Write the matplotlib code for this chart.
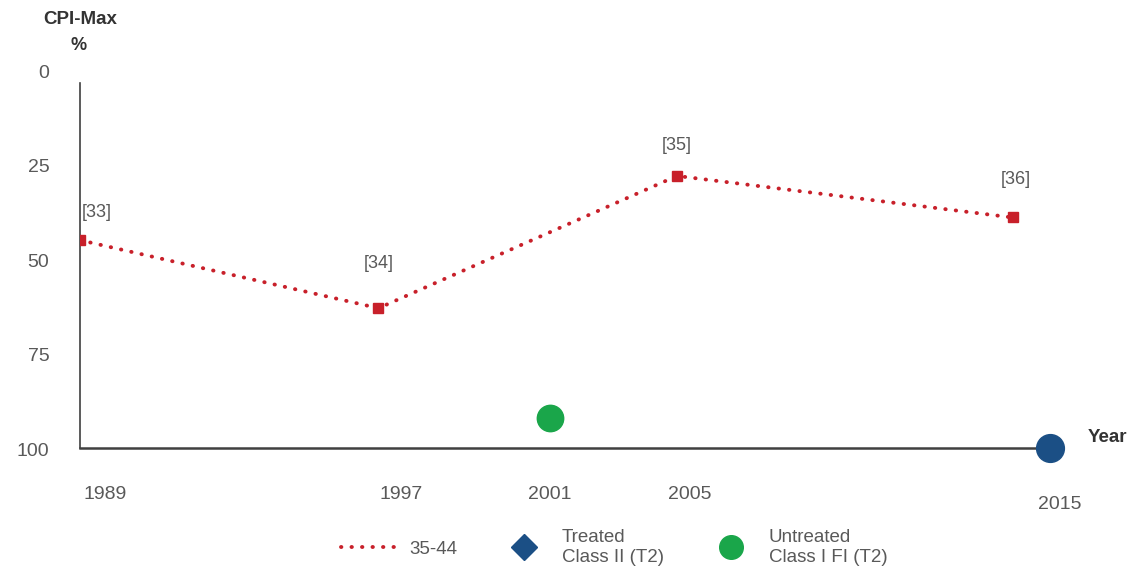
import matplotlib.pyplot as plt
from matplotlib.lines import Line2D
from matplotlib.transforms import ScaledTranslation

plt.rcParams['font.family'] = ['Liberation Sans', 'DejaVu Sans']

# data
years = [1989, 1997, 2005, 2014]
cpi = [45, 63, 28, 39]
refs = ['[33]', '[34]', '[35]', '[36]']
ref_off = [(12, 14), (0, 26), (0, 16), (2, 21)]

treated_x = [2015]
treated_y = [100]
untreated_x = [2001.6]
untreated_y = [92]

tick_years = [1989, 1997, 2001.6, 2015, 2005]
tick_labels = ['1989', '1997', '2001', '2015', '2005']
tick_shift = [(25, 0), (23, 0), (0, 0), (10, -10), (13, 0)]

red = '#C8202A'
blue = '#1B4F85'
green = '#1AA64A'
grey = '#595959'
dots = (0, (0.1, 2.6))

fig = plt.figure(figsize=(11.38, 5.70), dpi=100)
ax = fig.add_axes([0.0703, 0.214, 0.8524, 0.663])

ax.plot(years, cpi, color=red, lw=2.8, ls=dots, dash_capstyle='round',
        marker='s', ms=6.5, zorder=3)
ax.plot(untreated_x, untreated_y, 'o', color=green, ms=19, clip_on=False, zorder=4)
ax.plot(treated_x, treated_y, 'o', color=blue, ms=20, clip_on=False, zorder=4)

for x, y, t, (dx, dy) in zip(years, cpi, refs, ref_off):
    ax.annotate(t, (x, y), xytext=(dx, dy), textcoords='offset points',
                ha='center', va='bottom', fontsize=13, color=grey)

ax.set_xlim(1989, 2015)
ax.set_ylim(100, 0)
ax.set_yticks([0, 25, 50, 75, 100])
ax.tick_params(axis='y', length=0, pad=22, labelsize=14, labelcolor=grey)
for lab in ax.get_yticklabels():
    lab.set_transform(lab.get_transform() + ScaledTranslation(0, -0.01, fig.dpi_scale_trans))
ax.set_xticks(tick_years)
ax.set_xticklabels(tick_labels)
ax.tick_params(axis='x', length=0, pad=27, labelsize=14, labelcolor=grey)
for lab, (dx, dy) in zip(ax.get_xticklabels(), tick_shift):
    lab.set_transform(lab.get_transform() + ScaledTranslation(dx / 100, dy / 100, fig.dpi_scale_trans))

for s in ['top', 'right']:
    ax.spines[s].set_visible(False)
ax.spines['left'].set_bounds(100, 3.5)
ax.spines['left'].set_color('#404040')
ax.spines['bottom'].set_color('#404040')
ax.spines['left'].set_linewidth(1.2)
ax.spines['bottom'].set_linewidth(1.8)

fig.text(0.0703, 0.965, 'CPI-Max', fontsize=13.5, fontweight='bold', color='#333333', ha='center', va='center')
fig.text(0.069, 0.92, '%', fontsize=13, fontweight='bold', color='#333333', ha='center', va='center')
fig.text(0.973, 0.232, 'Year', fontsize=13.5, fontweight='bold', color='#333333', ha='center', va='center')

handles = [
    Line2D([], [], color=red, lw=2.8, ls=dots, dash_capstyle='round'),
    Line2D([], [], ls='none', marker='D', color=blue, ms=13),
    Line2D([], [], ls='none', marker='o', color=green, ms=17),
]
labels = ['35-44', 'Treated\nClass II (T2)', 'Untreated\nClass I FI (T2)']
fig.legend(handles, labels, loc='center', bbox_to_anchor=(0.54, 0.04), ncol=3,
           frameon=False, fontsize=13.5, labelcolor=grey, columnspacing=2.0,
           handlelength=3.2, handletextpad=0.4, labelspacing=0.2)

fig.savefig('out.png', dpi=100)
